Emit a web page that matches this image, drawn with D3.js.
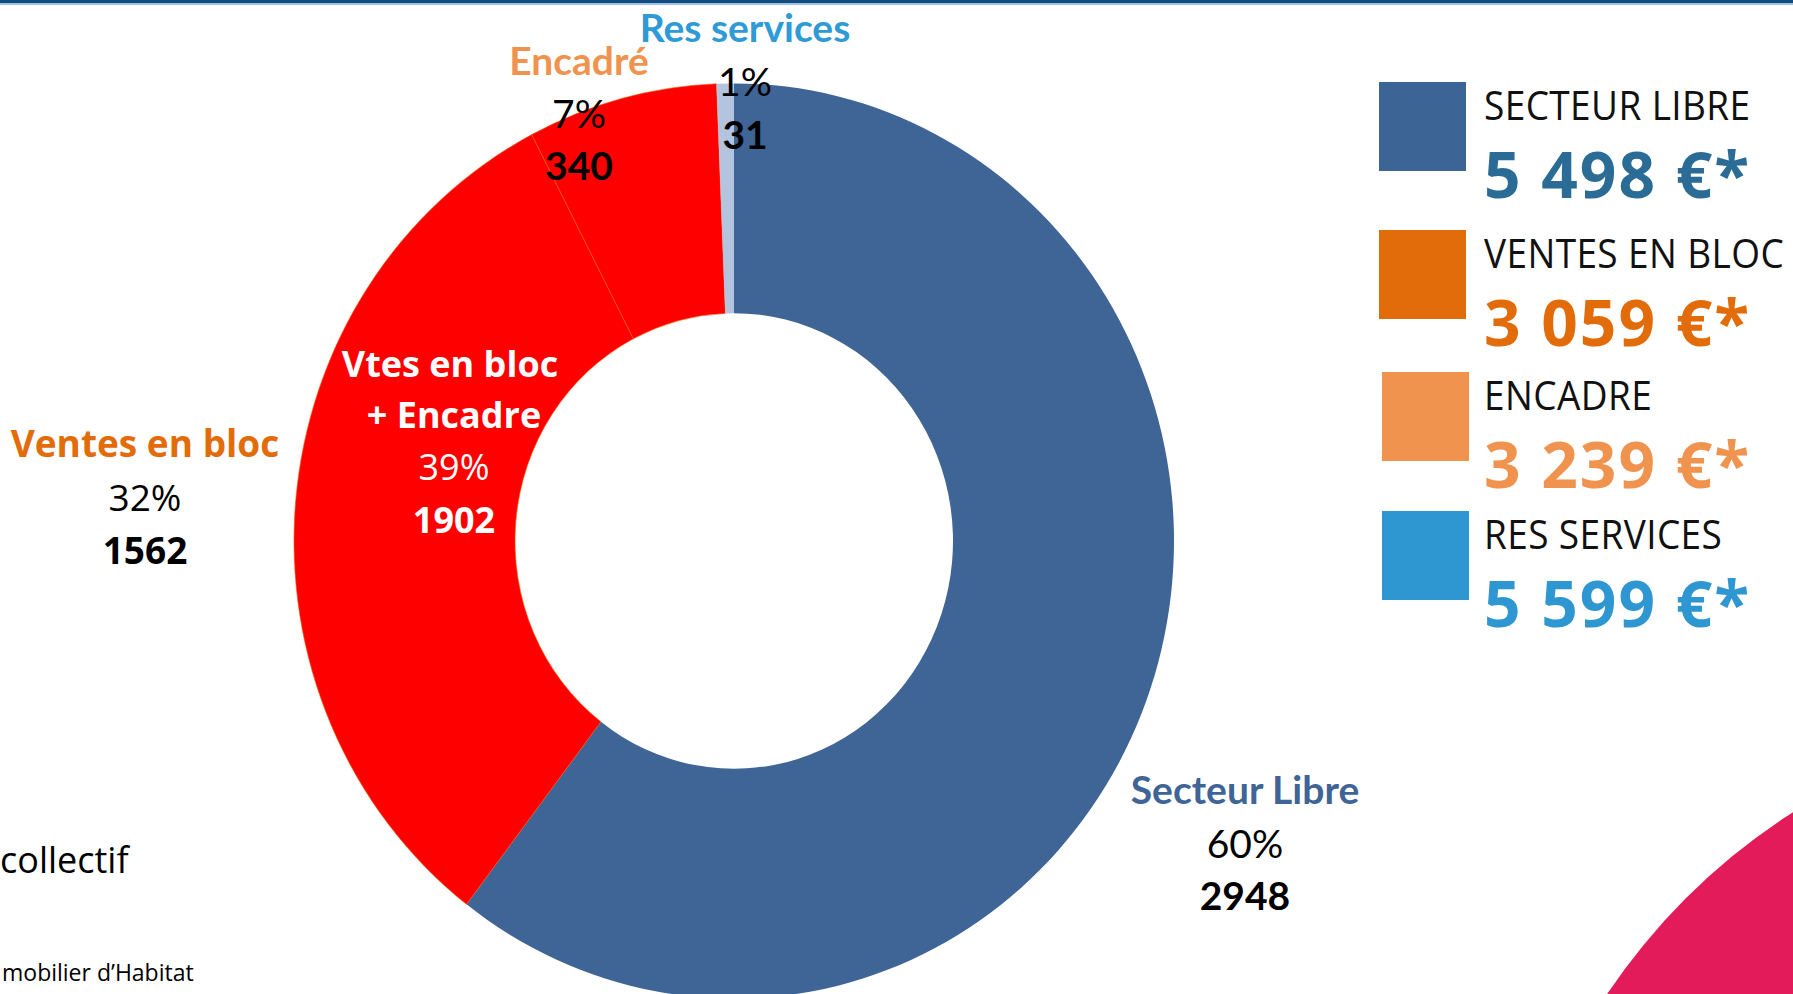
<!DOCTYPE html>
<html>
<head>
<meta charset="utf-8">
<script src="https://cdn.jsdelivr.net/npm/d3@7"></script>
<style>
  html, body { margin: 0; padding: 0; background: #fff; overflow: hidden; }
  svg { display: block; }
</style>
</head>
<body>
<div id="chart"></div>
<script>
// data
const categories = ["Secteur Libre", "Ventes en bloc", "Encadré", "Res services"];
const counts = [2948, 1562, 340, 31];
const sliceColors = ["#3F6496", "#FF0000", "#FF0000", "#B4C3DE"];
const labelColors = ["#3F6496", "#E36C0A", "#F0934F", "#2E9AD6"];

const legendLabels = ["SECTEUR LIBRE", "VENTES EN BLOC", "ENCADRE", "RES SERVICES"];
const legendPrices = ["5 498 €*", "3 059 €*", "3 239 €*", "5 599 €*"];
const legendColors = ["#3C6494", "#E36C0A", "#F0934F", "#2E96D0"];
const legendPriceColors = ["#2A6C95", "#E36C0A", "#F0934F", "#2E96D0"];

const comboLabel = ["Vtes en bloc", "+ Encadre"];

const width = 1793, height = 994;
const cx = 734, cy = 541;
const outerR = 440, innerR = 219;

const svg = d3.select("#chart")
  .append("svg")
  .attr("width", width)
  .attr("height", height);

// top band
svg.append("rect").attr("x", 0).attr("y", 0).attr("width", width).attr("height", 3).attr("fill", "#134A82");
svg.append("rect").attr("x", 0).attr("y", 3).attr("width", width).attr("height", 2).attr("fill", "#9DC3E6");

// pink circle in the corner
svg.append("circle")
  .attr("cx", 2136).attr("cy", 1349).attr("r", 637)
  .attr("fill", "#E31B5A");

const total = d3.sum(counts);
const pct = d3.format(".0%");

const pie = d3.pie().sort(null).value(d => d.value);
const arc = d3.arc().innerRadius(innerR).outerRadius(outerR);

const slices = pie(categories.map((c, i) => ({ name: c, value: counts[i], color: sliceColors[i] })));

const g = svg.append("g")
  .attr("transform", "translate(" + cx + "," + cy + ") scale(1,1.04)");

g.selectAll("path")
  .data(slices)
  .enter()
  .append("path")
  .attr("d", arc)
  .attr("fill", d => d.data.color)
  .attr("stroke", d => d.data.color === "#FF0000" ? "#F05A0A" : "none")
  .attr("stroke-width", 0.6);

// outside / inside labels: name, percent, count
const calibri = "Lato, 'Open Sans', sans-serif";
const segoe = "'Open Sans', 'Noto Sans', sans-serif";
const labelLayout = [
  { x: 1245, y: 804, dy: [0, 54, 106], font: calibri, size: 39, nameCol: labelColors[0], txt: "#000" },
  { x: 145, y: 457, dy: [0, 54, 107], font: segoe, size: 37, nameCol: labelColors[1], txt: "#000" },
  { x: 579, y: 75, dy: [0, 53, 105], font: calibri, size: 39, nameCol: labelColors[2], txt: "#000" },
  { x: 745, y: 42, dy: [0, 54, 107], font: calibri, size: 39, nameCol: labelColors[3], txt: "#000" }
];

slices.forEach((s, i) => {
  const L = labelLayout[i];
  const t = svg.append("g").attr("font-family", L.font).attr("text-anchor", "middle");
  t.append("text").attr("x", L.x).attr("y", L.y + L.dy[0])
    .attr("font-size", L.size).attr("font-weight", "bold").attr("fill", L.nameCol)
    .text(s.data.name);
  t.append("text").attr("x", L.x).attr("y", L.y + L.dy[1])
    .attr("font-size", L.size).attr("fill", L.txt)
    .text(pct(s.data.value / total));
  t.append("text").attr("x", L.x).attr("y", L.y + L.dy[2])
    .attr("font-size", L.size).attr("font-weight", "bold").attr("fill", L.txt)
    .text(s.data.value);
});

// combined label inside the red part
const combo = counts[1] + counts[2];
const cg = svg.append("g").attr("font-family", segoe).attr("text-anchor", "middle").attr("fill", "#fff");
cg.append("text").attr("x", 450).attr("y", 377).attr("font-size", 36).attr("font-weight", "bold").text(comboLabel[0]);
cg.append("text").attr("x", 454).attr("y", 428).attr("font-size", 36).attr("font-weight", "bold").text(comboLabel[1]);
cg.append("text").attr("x", 454).attr("y", 480).attr("font-size", 36).text(pct(combo / total));
cg.append("text").attr("x", 454).attr("y", 533).attr("font-size", 36).attr("font-weight", "bold").text(combo);

// legend on the right
const legendX = [1379, 1379, 1382, 1382];
const legendY = [82, 230, 372, 511];
const lg = svg.append("g").attr("font-family", segoe);
legendLabels.forEach((lab, i) => {
  lg.append("rect")
    .attr("x", legendX[i]).attr("y", legendY[i])
    .attr("width", 87).attr("height", 89)
    .attr("fill", legendColors[i]);
  lg.append("text")
    .attr("transform", "translate(1484," + (legendY[i] + 38) + ") scale(1,1.1)")
    .attr("font-size", 37).attr("letter-spacing", 0.4).attr("fill", "#111")
    .text(lab);
  lg.append("text")
    .attr("x", 1484).attr("y", legendY[i] + 116)
    .attr("font-size", 64).attr("font-weight", "bold").attr("letter-spacing", 2)
    .attr("fill", legendPriceColors[i])
    .text(legendPrices[i]);
});

// cut-off slide text at the left
svg.append("text").attr("x", 0).attr("y", 873)
  .attr("font-family", segoe).attr("font-size", 36).attr("fill", "#000")
  .text("collectif");
svg.append("text").attr("x", 2).attr("y", 981)
  .attr("font-family", segoe).attr("font-size", 23).attr("fill", "#000")
  .text("mobilier d’Habitat");
</script>
</body>
</html>
